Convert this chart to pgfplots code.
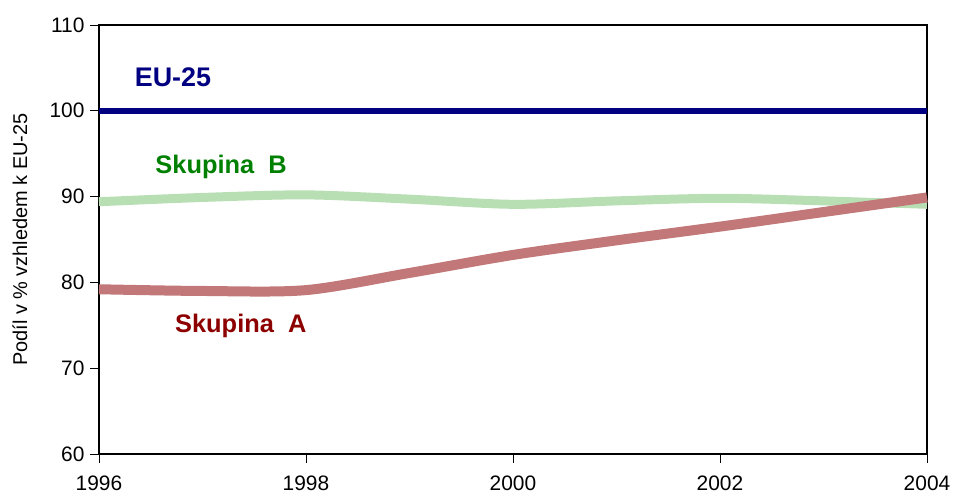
\documentclass[border=0pt]{standalone}
\usepackage{pgfplots}
\pgfplotsset{compat=1.18}
\usepackage{fontspec}
\setmainfont{Liberation Sans}
\definecolor{eublue}{RGB}{0,0,128}
\definecolor{grpA}{RGB}{194,120,120}
\definecolor{grpB}{RGB}{184,222,180}
\definecolor{labA}{RGB}{140,0,0}
\definecolor{labB}{RGB}{0,128,0}
\begin{document}
\begin{tikzpicture}
\begin{axis}[
	name=ax,
	scale only axis,
	width=828bp, height=429bp,
	xmin=1996, xmax=2004,
	ymin=60, ymax=110,
	xtick={1996,1998,2000,2002,2004},
	ytick={60,70,80,90,100,110},
	x tick label style={/pgf/number format/1000 sep=},
	/pgf/number format/assume math mode=true,
	tick align=outside,
	major tick length=9bp,
	xtick pos=bottom, ytick pos=left,
	axis line style={black, line width=1.1bp},
	tick style={black, line width=0.9bp},
	ticklabel style={font=\fontsize{21}{24}\selectfont},
	xticklabel style={yshift=-9bp},
	yticklabel style={xshift=-2bp},
	ylabel={Podíl v \% vzhledem k EU-25},
	every axis y label/.style={at={(rel axis cs:0,0.5)}, xshift=-79bp,
		rotate=90, anchor=center, font=\fontsize{20}{23}\selectfont},
	clip=false,
]
% Skupina B
\addplot[grpB, line width=9bp, smooth, tension=0.5] coordinates {
	(1996,89.4) (1997,89.9) (1998,90.2) (1999,89.7) (2000,89.1)
	(2001,89.5) (2002,89.8) (2003,89.5) (2004,89.1)
};
% Skupina A
\addplot[grpA, line width=10bp, smooth, tension=0.5] coordinates {
	(1996,79.2) (1997,79.0) (1998,79.1) (1999,81.1) (2000,83.2)
	(2001,84.9) (2002,86.5) (2003,88.2) (2004,89.9)
};
% EU-25
\addplot[eublue, line width=6bp] coordinates {(1996,100) (2004,100)};

\node[font=\fontsize{27}{30}\selectfont\bfseries, text=eublue] at (axis cs:1996.715,103.94) {EU-25};
\node[font=\fontsize{25.5}{28}\selectfont\bfseries, text=labB] at (axis cs:1997.18,93.4) {Skupina\ \ B};
\node[font=\fontsize{25.5}{28}\selectfont\bfseries, text=labA] at (axis cs:1997.37,74.9) {Skupina\ \ A};
\end{axis}
\pgfresetboundingbox
\path[use as bounding box] ([shift={(-99bp,-44bp)}]ax.south west) rectangle ([shift={(27bp,25bp)}]ax.north east);
\end{tikzpicture}
\end{document}
